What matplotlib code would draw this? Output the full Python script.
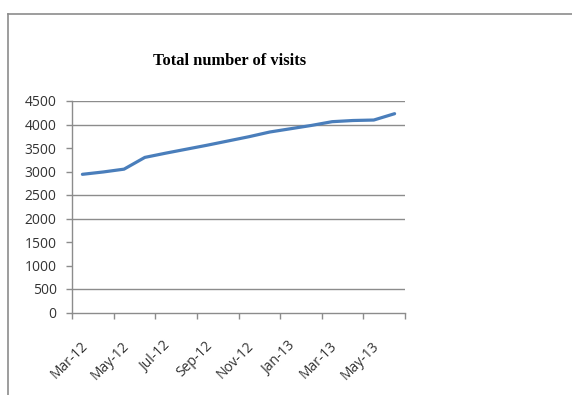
import numpy as np
import matplotlib.pyplot as plt
from matplotlib.lines import Line2D
import matplotlib.transforms as mtransforms

# monthly totals, Mar-12 .. Jun-13
months = ['Mar-12', 'Apr-12', 'May-12', 'Jun-12', 'Jul-12', 'Aug-12', 'Sep-12', 'Oct-12',
          'Nov-12', 'Dec-12', 'Jan-13', 'Feb-13', 'Mar-13', 'Apr-13', 'May-13', 'Jun-13']
visits = [2940, 2990, 3050, 3300, 3390, 3475, 3560, 3650,
          3740, 3840, 3910, 3980, 4060, 4085, 4095, 4230]
y_ticks = [0, 500, 1000, 1500, 2000, 2500, 3000, 3500, 4000, 4500]
# gridlines that survive in the reference image
grid_levels = [500, 2000, 2500, 4000, 4500]

grey = '#8c8c8c'
fig = plt.figure(figsize=(5.72, 3.95), dpi=100)
ax = fig.add_axes([72/572, 1 - 312.5/395, 333/572, 211.5/395])

x = np.arange(len(months)) + 0.5
ax.plot(x, visits, color='#4a7ebb', lw=2.3, solid_capstyle='round')

for g in grid_levels:
    ax.axhline(g, color=grey, lw=1.0, zorder=0)

ax.set_xlim(0, len(months))
ax.set_ylim(0, 4500)
ax.set_yticks(y_ticks)
ax.set_yticklabels([str(v) for v in y_ticks], fontsize=10, family='Open Sans', color='#333333')
ax.set_xticks(np.arange(0, len(months) + 1, 2))
ax.set_xticklabels([])

# rotated month labels, placed below the axis like Excel does
base = mtransforms.blended_transform_factory(ax.transData, ax.transAxes)
offset = mtransforms.ScaledTranslation(8/100, -26/100, fig.dpi_scale_trans)
for i in range(0, len(months), 2):
    ax.text(i, 0, months[i], transform=base + offset, fontsize=10, family='Open Sans',
            color='#333333', rotation=45, ha='right', va='top', rotation_mode='anchor')

for side in ['top', 'right']:
    ax.spines[side].set_visible(False)
for side in ['left', 'bottom']:
    ax.spines[side].set_color(grey)
    ax.spines[side].set_linewidth(1.0)
ax.tick_params(axis='both', color=grey, length=4, width=1.0, direction='out')
ax.tick_params(axis='y', pad=7)

fig.text(230/572, 1 - 61/395, 'Total number of visits', ha='center', va='center',
         fontsize=11.8, fontweight='bold', family='Liberation Serif')

# chart frame
fig.add_artist(Line2D([8/572, 1], [1 - 14/395] * 2, color=grey, lw=1.2, transform=fig.transFigure))
fig.add_artist(Line2D([8/572] * 2, [0, 1 - 14/395], color=grey, lw=1.2, transform=fig.transFigure))

fig.savefig('out.png', dpi=100)
